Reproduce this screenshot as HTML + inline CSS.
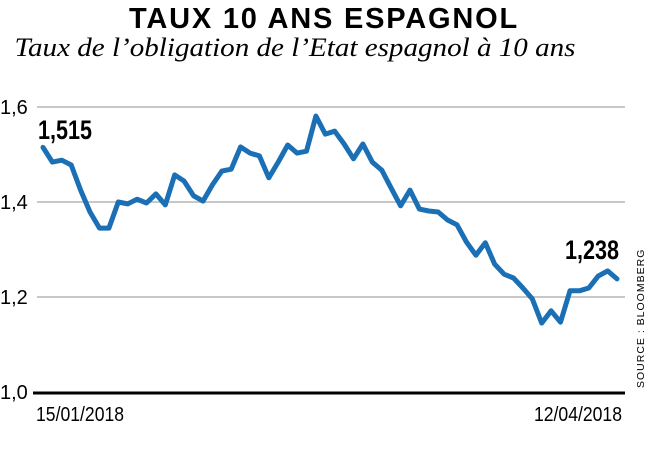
<!DOCTYPE html>
<html><head><meta charset="utf-8">
<style>
body{margin:0;background:#fff;width:648px;height:455px;overflow:hidden}
svg{display:block}
</style></head>
<body>
<svg id="chart" width="648" height="455" xmlns="http://www.w3.org/2000/svg">
<text x="324" y="28" text-anchor="middle" font-family="Liberation Sans, sans-serif" font-weight="bold" font-size="29" letter-spacing="1.8">TAUX 10 ANS ESPAGNOL</text>
<text x="295" y="56" text-anchor="middle" font-family="Liberation Serif, serif" font-style="italic" font-size="26" textLength="561" lengthAdjust="spacingAndGlyphs">Taux de l’obligation de l’Etat espagnol à 10 ans</text>
<g id="grid"></g>
<g id="yticks"></g>
<line x1="33" y1="393" x2="625" y2="393" stroke="#000" stroke-width="3"/>
<g font-family="Liberation Sans, sans-serif" font-size="20">
<text transform="translate(36,421) scale(0.88,1)">15/01/2018</text>
<text text-anchor="end" transform="translate(622,421) scale(0.88,1)">12/04/2018</text>
</g>
<path id="line" fill="none" stroke="#1a6fb5" stroke-width="5" stroke-linejoin="round" stroke-linecap="round"/>
<text transform="translate(38,139) scale(0.8,1)" font-family="Liberation Sans, sans-serif" font-weight="bold" font-size="27">1,515</text>
<text transform="translate(565,259) scale(0.8,1)" font-family="Liberation Sans, sans-serif" font-weight="bold" font-size="27">1,238</text>
<text transform="translate(644,388) rotate(-90)" font-family="Liberation Sans, sans-serif" font-size="10.5" letter-spacing="1">SOURCE : BLOOMBERG</text>
</svg>
<script>
const values=[1.515,1.484,1.488,1.478,1.425,1.379,1.345,1.345,1.400,1.396,1.406,1.398,1.417,1.394,1.457,1.444,1.413,1.402,1.436,1.465,1.469,1.516,1.503,1.497,1.451,1.484,1.520,1.503,1.507,1.581,1.543,1.549,1.522,1.491,1.522,1.484,1.467,1.429,1.392,1.425,1.385,1.381,1.379,1.362,1.352,1.316,1.288,1.314,1.269,1.248,1.240,1.219,1.196,1.145,1.171,1.147,1.213,1.213,1.219,1.244,1.255,1.238];
const yTicks=[1.0,1.2,1.4,1.6];
const yTickLabels=["1,0","1,2","1,4","1,6"];
const NS="http://www.w3.org/2000/svg";
const x0=43,x1=617,yBase=392,pxPerUnit=475;
const xs=i=>x0+(x1-x0)*i/(values.length-1);
const ys=v=>yBase-(v-1.0)*pxPerUnit;
const grid=document.getElementById('grid'),yt=document.getElementById('yticks');
yTicks.forEach((t,i)=>{
 if(t>1.0){const l=document.createElementNS(NS,'line');
 
 
 l.setAttribute('x1',37);l.setAttribute('x2',625);l.setAttribute('y1',ys(t));l.setAttribute('y2',ys(t));
 l.setAttribute('stroke','#c8c8c8');l.setAttribute('stroke-width','2');grid.appendChild(l);}
 const tx=document.createElementNS(NS,'text');
 
 
 tx.setAttribute('x',0);tx.setAttribute('y',ys(t)+7);
 tx.setAttribute('font-family','Liberation Sans, sans-serif');tx.setAttribute('font-size','20');
 tx.textContent=yTickLabels[i];yt.appendChild(tx);
});
document.getElementById('line').setAttribute('d',values.map((v,i)=>(i?'L':'M')+xs(i).toFixed(1)+','+ys(v).toFixed(1)).join(' '));
</script>
</body></html>
